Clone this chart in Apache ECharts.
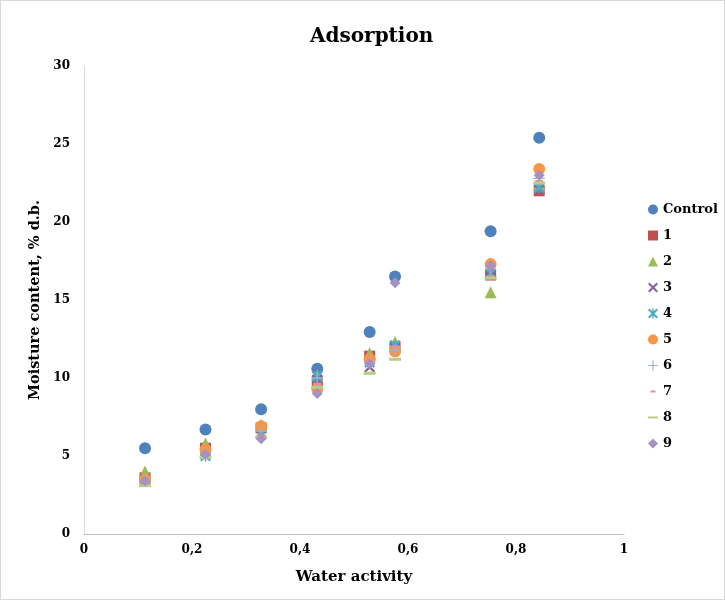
<!DOCTYPE html>
<html>
<head>
<meta charset="utf-8">
<script src="https://cdn.jsdelivr.net/npm/echarts@6/dist/echarts.min.js"></script>
<style>
html, body { margin: 0; padding: 0; background: #fff; }
#chart { width: 723px; height: 598px; border: 1px solid #d9d9d9; }
</style>
</head>
<body>
<div id="chart"></div>
<script>
var aw = [0.113, 0.225, 0.328, 0.432, 0.529, 0.576, 0.753, 0.843];
var control = [5.5, 6.7, 8.0, 10.6, 12.95, 16.5, 19.4, 25.4];
var s1 = [3.6, 5.5, 6.8, 9.8, 11.4, 12.0, 16.6, 22.0];
var s2 = [4.0, 5.8, 7.0, 10.2, 11.6, 12.3, 15.5, 22.4];
var s3 = [3.5, 5.3, 6.5, 9.9, 10.7, 11.9, 16.9, 22.1];
var s4 = [3.4, 5.0, 6.4, 10.1, 11.0, 12.1, 16.7, 22.2];
var s5 = [3.5, 5.4, 6.9, 9.3, 11.2, 11.7, 17.3, 23.4];
var s6 = [3.5, 5.2, 6.6, 10.0, 11.0, 11.8, 17.0, 22.8];
var s7 = [3.3, 5.1, 6.3, 9.6, 11.1, 12.0, 16.5, 22.6];
var s8 = [3.1, 4.9, 6.2, 9.4, 10.3, 11.2, 16.4, 22.5];
var s9 = [3.4, 5.1, 6.1, 9.0, 10.9, 16.1, 17.2, 23.0];
var names = ['Control', '1', '2', '3', '4', '5', '6', '7', '8', '9'];
var xTicks = ['0', '0,2', '0,4', '0,6', '0,8', '1'];

var xPath = 'path://M0,1.5L1.5,0L5,3.5L8.5,0L10,1.5L6.5,5L10,8.5L8.5,10L5,6.5L1.5,10L0,8.5L3.5,5Z';
var starPath = 'path://M0,1.5L1.5,0L5,3.5L8.5,0L10,1.5L6.5,5L10,8.5L8.5,10L5,6.5L1.5,10L0,8.5L3.5,5Z M4.3,0H5.7V10H4.3Z';
var plusPath = 'path://M4.4,0H5.6V4.4H10V5.6H5.6V10H4.4V5.6H0V4.4H4.4Z';
// legend dashes: the leading moves keep the icon box square
var dash7 = 'path://M0,0M12,12M3,4.8H9V7.2H3Z';
var dash8 = 'path://M0,0M12,12M0,4.8H12V7.2H0Z';

var styles = [
    {data: control, color: '#4F81BD', symbol: 'circle', size: 12, icon: 'circle'},
    {data: s1, color: '#C0504D', symbol: 'rect', size: 11, icon: 'rect'},
    {data: s2, color: '#9BBB59', symbol: 'triangle', size: 12, icon: 'triangle'},
    {data: s3, color: '#8064A2', symbol: xPath, size: 11, icon: xPath},
    {data: s4, color: '#4BACC6', symbol: starPath, size: 11, icon: starPath},
    {data: s5, color: '#F79646', symbol: 'circle', size: 12, icon: 'circle'},
    {data: s6, color: '#95B3D7', symbol: plusPath, size: 11, icon: plusPath},
    {data: s7, color: '#D99694', symbol: 'rect', size: [8, 3], icon: dash7},
    {data: s8, color: '#B7CD8A', symbol: 'rect', size: [12, 3], icon: dash8},
    {data: s9, color: '#A692C0', symbol: 'diamond', size: 11, icon: 'diamond'}
];

var myChart = echarts.init(document.getElementById('chart'));
var fontFam = '"DejaVu Serif", "Liberation Serif", serif';

var series = styles.map(function (s, i) {
    return {
        type: 'scatter',
        name: names[i],
        symbol: s.symbol,
        symbolSize: s.size,
        itemStyle: {color: s.color, opacity: 1},
        data: aw.map(function (x, j) { return [x, s.data[j]]; })
    };
});

var option = {
    animation: false,
    title: {
        text: 'Adsorption',
        left: 304,
        top: 21,
        textStyle: {fontFamily: fontFam, fontWeight: 'bold', fontSize: 20, color: '#000'}
    },
    grid: {
        left: 83,
        right: 100,
        top: 65,
        bottom: 65
    },
    legend: {
        orient: 'vertical',
        left: 642,
        top: 197,
        itemWidth: 10,
        itemHeight: 10,
        itemGap: 13,
        textStyle: {fontFamily: fontFam, fontWeight: 'bold', fontSize: 13, color: '#000'},
        data: names.map(function (n, i) { return {name: n, icon: styles[i].icon}; })
    },
    xAxis: {
        type: 'value',
        min: 0,
        max: 1,
        interval: 0.2,
        name: 'Water activity',
        nameLocation: 'middle',
        nameGap: 36,
        nameTextStyle: {fontFamily: fontFam, fontWeight: 'bold', fontSize: 15, color: '#000'},
        axisLine: {show: true, lineStyle: {color: '#bfbfbf'}},
        axisTick: {show: false},
        splitLine: {show: false},
        axisLabel: {
            fontFamily: fontFam, fontWeight: 'bold', fontSize: 12, color: '#000', margin: 10,
            formatter: function (v) { return xTicks[Math.round(v / 0.2)]; }
        }
    },
    yAxis: {
        type: 'value',
        min: 0,
        max: 30,
        interval: 5,
        name: 'Moisture content, % d.b.',
        nameLocation: 'middle',
        nameGap: 40,
        nameTextStyle: {fontFamily: fontFam, fontWeight: 'bold', fontSize: 14.5, color: '#000'},
        axisLine: {show: true, lineStyle: {color: '#d9d9d9'}},
        axisTick: {show: false},
        splitLine: {show: false},
        axisLabel: {fontFamily: fontFam, fontWeight: 'bold', fontSize: 12, color: '#000', margin: 14}
    },
    series: series
};

myChart.setOption(option);
</script>
</body>
</html>
